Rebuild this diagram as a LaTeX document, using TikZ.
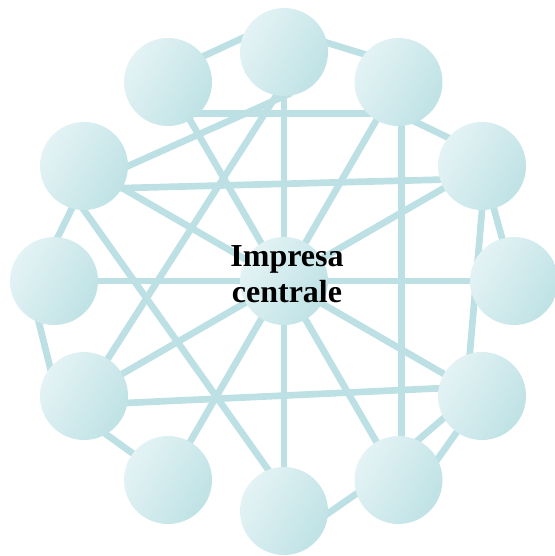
\documentclass[tikz,border=0pt]{standalone}
\usepackage{fontspec}
\setmainfont{Liberation Serif}
\usetikzlibrary{positioning}
\pgfdeclarelayer{background}
\pgfsetlayers{background,main}
\definecolor{linkcol}{RGB}{189,224,228}
\definecolor{balllight}{RGB}{228,243,245}
\definecolor{balldark}{RGB}{191,226,229}

\begin{document}
\begin{tikzpicture}[x=1pt, y=-1pt,
    ball/.style={circle, minimum size=88pt, inner sep=0pt,
      left color=balllight, right color=balldark, shading angle=60},
    link/.style={line width=6.7pt, linkcol, shorten <=-8pt, shorten >=-8pt}]
    \useasboundingbox (0,0) rectangle (554,556);

    % Firms around the centre
    \node[ball] (T) at (284,52) {};
    \node[ball] (TL) at (168,82) {};
    \node[ball] (TR) at (398.5,82) {};
    \node[ball] (LU) at (84,166) {};
    \node[ball] (RU) at (482,166) {};
    \node[ball] (L) at (54,281) {};
    \node[ball] (R) at (514,281) {};
    \node[ball] (LL) at (84,396) {};
    \node[ball] (RL) at (482,396) {};
    \node[ball] (BL) at (168,480) {};
    \node[ball] (B) at (284,511) {};
    \node[ball] (BR) at (398.5,480) {};

    % Central firm
    \node[ball] (C) at (284,281) {};
    \node[font=\bfseries\fontsize{32}{35.6}\selectfont, align=center] (Clabel) at (287,274) {Impresa\\centrale};

    % Links
    \begin{pgfonlayer}{background}
    \draw[link] (T.south) -- (B.north);
    \draw[link] (L) -- (R);
    \draw[link] (TL) -- (BR);
    \draw[link] (TR) -- (BL);
    \draw[link] (LU) -- (RL);
    \draw[link] (RU) -- (LL);
    \draw[link] (TL.36) -- (T.162);
    \draw[link] (T.12) -- (TR.141);
    \draw[link] (TL.-45) -- (TR.225);
    \draw[link] (TR.-86) -- (BR.86);
    \draw[link] (TR.-66) -- (RU.140);
    \draw[link] (LU.-30) -- (RU.198);
    \draw[link] (LL.-9) -- (RL.170);
    \draw[link] (LU.east) -- (T.south);
    \draw[link] (T.260) -- (LL);
    \draw[link] (LU.254) -- (L.85);
    \draw[link] (L.250) -- (LL.140);
    \draw[link] (LL.-60) -- (BL.143);
    \draw[link] (LU.south) -- (B.111);
    \draw[link] (B.-3) -- (BR.198);
    \draw[link] (RL.210) -- (BR.64);
    \draw[link] (RL.235) -- (BR.28);
    \draw[link] (RU) -- (R);
    \draw[link] (RU.south) -- (RL.106);
    \end{pgfonlayer}
\end{tikzpicture}
\end{document}
